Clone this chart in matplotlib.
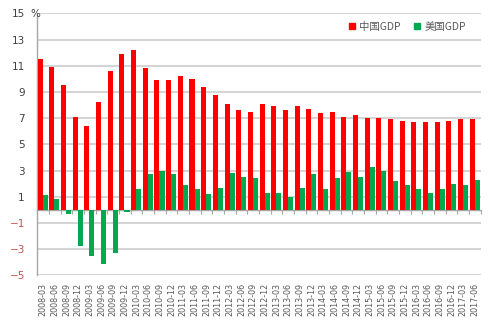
import matplotlib
matplotlib.use("Agg")
import matplotlib.pyplot as plt
from matplotlib.lines import Line2D
import numpy as np

# Quarterly labels
quarters = [
    "2008-03", "2008-06", "2008-09", "2008-12",
    "2009-03", "2009-06", "2009-09", "2009-12",
    "2010-03", "2010-06", "2010-09", "2010-12",
    "2011-03", "2011-06", "2011-09", "2011-12",
    "2012-03", "2012-06", "2012-09", "2012-12",
    "2013-03", "2013-06", "2013-09", "2013-12",
    "2014-03", "2014-06", "2014-09", "2014-12",
    "2015-03", "2015-06", "2015-09", "2015-12",
    "2016-03", "2016-06", "2016-09", "2016-12",
    "2017-03", "2017-06",
]

# GDP growth, year over year (%)
china_gdp = [
    11.5, 10.9, 9.5, 7.1,
    6.4, 8.2, 10.6, 11.9,
    12.2, 10.8, 9.9, 9.9,
    10.2, 10.0, 9.4, 8.8,
    8.1, 7.6, 7.5, 8.1,
    7.9, 7.6, 7.9, 7.7,
    7.4, 7.5, 7.1, 7.2,
    7.0, 7.0, 6.9, 6.8,
    6.7, 6.7, 6.7, 6.8,
    6.9, 6.9,
]
us_gdp = [
    1.1, 0.8, -0.3, -2.8,
    -3.5, -4.1, -3.3, -0.2,
    1.6, 2.7, 3.0, 2.7,
    1.9, 1.6, 1.2, 1.7,
    2.8, 2.5, 2.4, 1.3,
    1.3, 1.0, 1.7, 2.7,
    1.6, 2.4, 2.9, 2.5,
    3.3, 3.0, 2.2, 1.9,
    1.6, 1.3, 1.6, 2.0,
    1.9, 2.3,
]
y_ticks = [15, 13, 11, 9, 7, 5, 3, 1, -1, -3, -5]
series_names = ["中国GDP", "美国GDP"]

RED = "#FF0000"
GREEN = "#00A84F"
GRID = "#C9C9C9"
TEXT = "#404040"
NEG_TEXT = "#C0504D"

plt.rcParams["font.family"] = ["Noto Sans CJK SC", "DejaVu Sans"]

fig = plt.figure(figsize=(4.92, 3.22), dpi=100)
ax = fig.add_axes([37.3 / 492, 1 - 275.3 / 322, (480.8 - 37.3) / 492, (275.3 - 13.3) / 322])

x = np.arange(len(quarters))
w = 0.43
ax.bar(x - w / 2 - 0.03, china_gdp, width=w, color=RED, zorder=3, linewidth=0)
ax.bar(x + w / 2 - 0.03, us_gdp, width=w, color=GREEN, zorder=3, linewidth=0)

ax.set_xlim(-0.5, len(quarters) - 0.5)
ax.set_ylim(-5, 15)

# horizontal gridlines
ax.set_yticks(y_ticks)
ax.yaxis.grid(True, color=GRID, linewidth=1.1, zorder=0)
ax.set_axisbelow(True)
ax.tick_params(axis="y", length=0, pad=9, labelsize=7.5, labelcolor=TEXT)
for lab, val in zip(ax.get_yticklabels(), y_ticks):
    lab.set_fontfamily("DejaVu Sans")
    if val < 0:
        lab.set_color(NEG_TEXT)

# category labels along the bottom
ax.set_xticks(x)
ax.set_xticklabels(quarters, rotation=90, fontsize=5.8, color="#595959",
                   fontfamily="DejaVu Sans")
ax.tick_params(axis="x", length=0, pad=5.5)

for side in ("top", "right", "bottom"):
    ax.spines[side].set_visible(False)
ax.spines["left"].set_color("#A6A6A6")
ax.spines["left"].set_linewidth(1.0)

# category axis crossing at zero, with boundary ticks
zero_frac = (0 - (-5)) / (15 - (-5))
sec = ax.secondary_xaxis(zero_frac)
sec.set_xticks(np.arange(len(quarters) + 1) - 0.5)
sec.tick_params(axis="x", direction="out", length=3, color="#A6A6A6",
                labelbottom=False, labeltop=False, width=0.8)
sec.spines["bottom"].set_color("#A6A6A6")
sec.spines["bottom"].set_linewidth(1.0)
for side in ("top", "left", "right"):
    sec.spines[side].set_visible(False)

# unit label
fig.text(30.5 / 492, 1 - 14 / 322, "%", fontsize=7.5, color=TEXT,
         ha="left", va="center", fontfamily="DejaVu Sans")

handles = [
    Line2D([], [], marker="s", linestyle="none", markersize=4, color=RED),
    Line2D([], [], marker="s", linestyle="none", markersize=4, color=GREEN),
]
leg = fig.legend(handles, series_names, ncol=2, frameon=False,
                 loc="center right", bbox_to_anchor=(470 / 492, 1 - 27 / 322),
                 fontsize=7.5, handlelength=0.6, handletextpad=0.4,
                 columnspacing=1.3, borderaxespad=0)
for t in leg.get_texts():
    t.set_color("#595959")

fig.savefig("out.png", dpi=100)
